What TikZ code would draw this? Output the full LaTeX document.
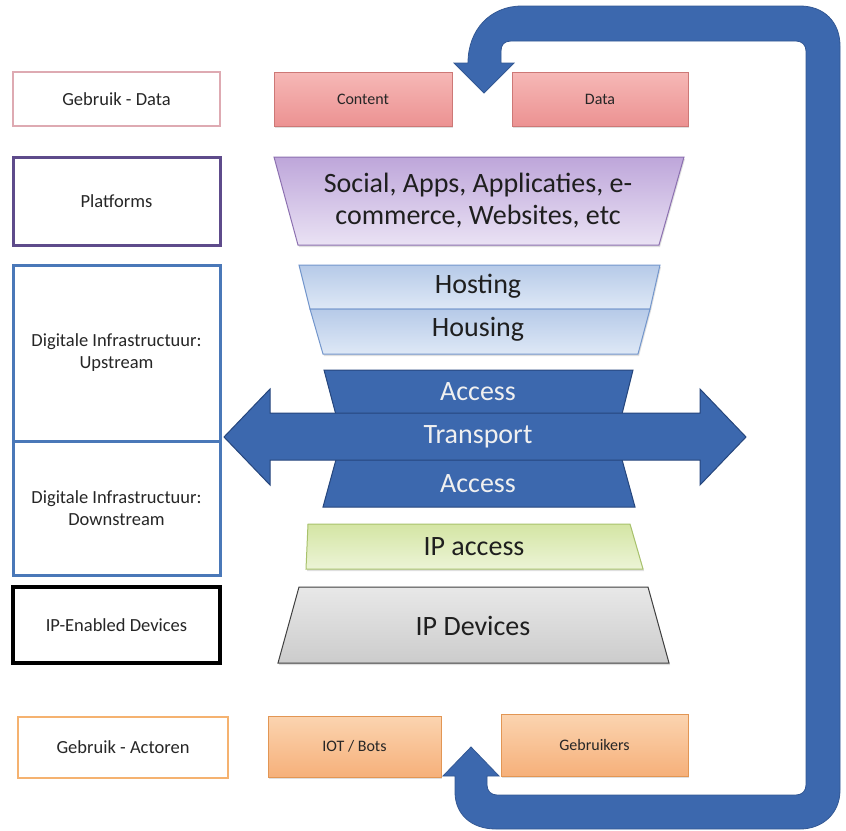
\documentclass[tikz,border=0pt]{standalone}
\usepackage{fontspec}
\setmainfont{Carlito}
\usetikzlibrary{shadows}
\definecolor{ublue}{RGB}{60,104,174}
\definecolor{ubluedark}{RGB}{38,70,125}
\definecolor{txt}{RGB}{38,38,38}
\definecolor{pinkb}{RGB}{222,170,178}
\definecolor{purpb}{RGB}{94,75,139}
\definecolor{blueb}{RGB}{74,120,184}
\definecolor{orangeb}{RGB}{245,178,112}
\definecolor{redtop}{RGB}{246,184,182}
\definecolor{redbot}{RGB}{236,146,146}
\definecolor{redline}{RGB}{205,120,118}
\definecolor{purtop}{RGB}{190,166,218}
\definecolor{purbot}{RGB}{234,226,244}
\definecolor{purline}{RGB}{140,112,176}
\definecolor{lbtop}{RGB}{182,202,232}
\definecolor{lbbot}{RGB}{222,232,246}
\definecolor{lbline}{RGB}{115,150,204}
\definecolor{grtop}{RGB}{212,229,164}
\definecolor{grbot}{RGB}{236,244,214}
\definecolor{grline}{RGB}{168,194,108}
\definecolor{gytop}{RGB}{232,232,232}
\definecolor{gybot}{RGB}{204,204,204}
\definecolor{ortop}{RGB}{251,212,176}
\definecolor{orbot}{RGB}{246,176,122}
\definecolor{orline}{RGB}{226,150,84}
\begin{document}
\begin{tikzpicture}[x=1pt,y=-1pt,
  lbox/.style={draw, line width=2.5pt, fill=white, text=txt, align=center,
    font=\fontsize{18.5}{22}\selectfont, inner sep=0pt},
  sbox/.style={line width=1pt, text=txt, align=center,
    font=\fontsize{16}{19}\selectfont, inner sep=0pt,
    drop shadow={shadow xshift=1pt, shadow yshift=-2pt, opacity=0.25}},
  redbox/.style={sbox, draw=redline, top color=redtop, bottom color=redbot},
  orbox/.style={sbox, draw=orline, top color=ortop, bottom color=orbot},
  trap/.style={line width=1pt, drop shadow={shadow xshift=1pt, shadow yshift=-2pt, opacity=0.25}},
  big/.style={text=black!88, align=center, font=\fontsize{28}{32}\selectfont, inner sep=0pt},
  bigw/.style={big, text=white!94!black},
  bluefill/.style={fill=ublue, draw=ubluedark, line width=1pt}
]
\useasboundingbox (0,0) rectangle (846,830);
\fill[white] (0,0) rectangle (846,830);

% ---- big feedback arrow
\path[fill=ublue, draw=ublue!85!black, line width=0.8pt]
  (484,93) -- (514,63) -- (501,63) -- (501,51)
  .. controls (501,45) and (504,41) .. (511,41) -- (796,41)
  .. controls (802,41) and (806,45) .. (806,51) -- (806,785)
  .. controls (806,791) and (802,795) .. (796,795) -- (497,795)
  .. controls (491,795) and (487,791) .. (487,785) -- (487,776) -- (499,776)
  -- (471,747) -- (443,776) -- (455,776) -- (455,792)
  .. controls (455,814) and (471,829) .. (496,829) -- (800,829)
  .. controls (822,829) and (840,814) .. (840,790) -- (840,46)
  .. controls (840,22) and (824,6) .. (800,6) -- (522,6)
  .. controls (490,6) and (468,30) .. (468,63) -- (454,63) -- cycle;

% ---- left column
\node[lbox, draw=pinkb, minimum width=207pt, minimum height=54pt] (gd) at (116.5,99) {Gebruik - Data};
\node[lbox, draw=purpb, line width=3pt, minimum width=207pt, minimum height=88pt] (pf) at (116.5,201) {Platforms};
\node[lbox, draw=blueb, line width=3pt, minimum width=207pt, minimum height=176pt] (up) at (116.5,353) {Digitale Infrastructuur:\\Upstream};
\node[lbox, draw=blueb, line width=3pt, minimum width=207pt, minimum height=134pt] (down) at (116.5,508) {Digitale Infrastructuur:\\Downstream};
\node[lbox, draw=black, line width=3.5pt, minimum width=207pt, minimum height=76pt] (ipe) at (116.5,625) {IP-Enabled Devices};
\node[lbox, draw=orangeb, minimum width=210pt, minimum height=61pt] (ga) at (123,747.5) {Gebruik - Actoren};

% ---- top boxes
\node[redbox, minimum width=178pt, minimum height=54pt] (content) at (363,99) {Content};
\node[redbox, minimum width=176pt, minimum height=54pt] (data) at (600,99) {Data};

% ---- platforms trapezoid
\path[trap, draw=purline, top color=purtop, bottom color=purbot]
  (274,157) -- (684,157) -- (659,245) -- (298,245) -- cycle;
\node[big] (social) at (478,201) {Social, Apps, Applicaties, e-\\commerce, Websites, etc};

% ---- hosting / housing
\path[trap, draw=lbline, top color=lbtop, bottom color=lbbot]
  (299,265) -- (660,265) -- (650,309) -- (310,309) -- cycle;
\path[trap, draw=lbline, top color=lbtop, bottom color=lbbot]
  (310,309) -- (650,309) -- (638,354) -- (323,354) -- cycle;
\node[big] (hosting) at (478,286) {Hosting};
\node[big] (housing) at (478,329) {Housing};

% ---- access / transport
\path[bluefill] (324,370) -- (633,370) -- (618,430) -- (340,430) -- cycle;
\path[bluefill] (340,445) -- (618,445) -- (635,507) -- (323,507) -- cycle;
\path[bluefill] (224,437) -- (270,389) -- (270,413) -- (700,413) -- (700,389)
  -- (746,437) -- (700,485) -- (700,460) -- (270,460) -- (270,485) -- cycle;
\node[bigw] (acc1) at (478,392) {Access};
\node[bigw] (trans) at (478,437) {Transport};
\node[bigw] (acc2) at (478,484) {Access};

% ---- IP access / devices
\path[trap, draw=grline, top color=grtop, bottom color=grbot]
  (308,524) -- (630,524) -- (643,569) -- (306,569) -- cycle;
\node[big] (ipacc) at (474,547) {IP access};
\path[trap, draw=black!75, top color=gytop, bottom color=gybot]
  (299,587) -- (648,587) -- (669,663) -- (278,663) -- cycle;
\node[big] (ipdev) at (473,626) {IP Devices};

% ---- bottom boxes
\node[orbox, minimum width=173pt, minimum height=61pt] (iot) at (354.5,746.5) {IOT / Bots};
\node[orbox, minimum width=187pt, minimum height=62pt] (users) at (594.5,745) {Gebruikers};
\end{tikzpicture}
\end{document}
